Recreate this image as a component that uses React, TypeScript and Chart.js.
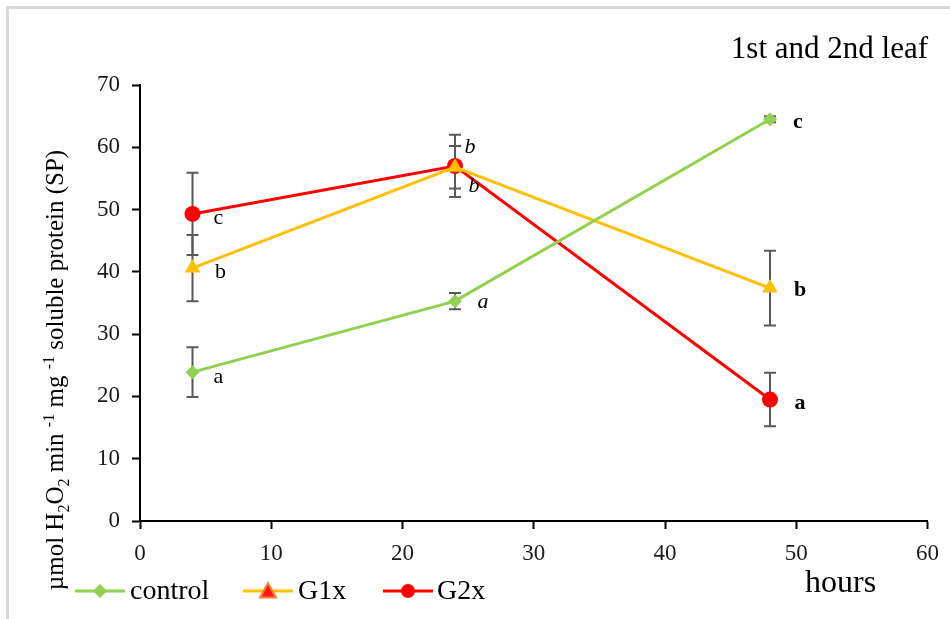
import React, { useEffect, useRef } from "react";
import { Chart, registerables } from "chart.js";

Chart.register(...registerables);

// ---- data ----
const hours = [4, 24, 48];
const controlValues = [23.9, 35.3, 64.5];
const controlErrors = [4.0, 1.3, 0.5];
const g1xValues = [40.6, 56.8, 37.4];
const g1xErrors = [5.3, 3.4, 6.0];
const g2xValues = [49.3, 57.0, 19.5];
const g2xErrors = [6.6, 5.0, 4.3];
const controlLetters = ["a", "a", "c"];
const g1xLetters = ["b", "b", "b"];
const g2xLetters = ["c", "b", "a"];
const seriesNames = ["control", "G1x", "G2x"];
const chartTitle = "1st and 2nd leaf";
const xAxisTitle = "hours";

// ---- styling (not data) ----
const FONT = "'Liberation Serif', 'Times New Roman', serif";
const colors = ["#92d050", "#ffc000", "#ff0000"];
const letterStyle = ["", "italic ", "bold "]; // per time point
const letterOffsets = [
  [[26, 5], [28, 1], [28, 3]],
  [[28, 4], [19, 19], [30, 2]],
  [[26, 4], [15, -19], [30, 4]],
];

const allValues = [controlValues, g1xValues, g2xValues];
const allErrors = [controlErrors, g1xErrors, g2xErrors];
const allLetters = [controlLetters, g1xLetters, g2xLetters];

function drawMarker(ctx: CanvasRenderingContext2D, kind: number, x: number, y: number) {
  ctx.save();
  if (kind === 0) {
    const r = 7;
    ctx.fillStyle = colors[0];
    ctx.beginPath();
    ctx.moveTo(x, y - r);
    ctx.lineTo(x + r, y);
    ctx.lineTo(x, y + r);
    ctx.lineTo(x - r, y);
    ctx.closePath();
    ctx.fill();
  } else if (kind === 1) {
    const r = 8;
    ctx.fillStyle = "#ff1a1a";
    ctx.strokeStyle = "#f4812c";
    ctx.lineWidth = 2;
    ctx.beginPath();
    ctx.moveTo(x, y - r);
    ctx.lineTo(x + r, y + r * 0.8);
    ctx.lineTo(x - r, y + r * 0.8);
    ctx.closePath();
    ctx.fill();
    ctx.stroke();
  } else {
    ctx.fillStyle = colors[2];
    ctx.beginPath();
    ctx.arc(x, y, 7, 0, Math.PI * 2);
    ctx.fill();
  }
  ctx.restore();
}

const decorPlugin = {
  id: "decor",
  beforeDraw(chart: any) {
    const { ctx, width, height } = chart;
    ctx.save();
    ctx.fillStyle = "#ffffff";
    ctx.fillRect(0, 0, width, height);
    // frame
    ctx.fillStyle = "#d9d9d9";
    ctx.fillRect(6, 6, width - 6, 3);
    ctx.fillRect(6, 6, 3, height - 6);
    ctx.restore();
  },
  beforeDatasetsDraw(chart: any) {
    const { ctx, scales } = chart;
    const xs = scales.x;
    const ys = scales.y;
    ctx.save();
    ctx.strokeStyle = "#595959";
    ctx.lineWidth = 2;
    allValues.forEach((vals, i) => {
      vals.forEach((v, j) => {
        const px = xs.getPixelForValue(hours[j]);
        const top = ys.getPixelForValue(v + allErrors[i][j]);
        const bot = ys.getPixelForValue(v - allErrors[i][j]);
        ctx.beginPath();
        ctx.moveTo(px, top);
        ctx.lineTo(px, bot);
        ctx.moveTo(px - 6, top);
        ctx.lineTo(px + 6, top);
        ctx.moveTo(px - 6, bot);
        ctx.lineTo(px + 6, bot);
        ctx.stroke();
      });
    });
    ctx.restore();
  },
  afterDraw(chart: any) {
    const { ctx, scales } = chart;
    const xs = scales.x;
    const ys = scales.y;
    ctx.save();
    // significance letters
    ctx.fillStyle = "#000000";
    ctx.textAlign = "center";
    ctx.textBaseline = "middle";
    allValues.forEach((vals, i) => {
      vals.forEach((v, j) => {
        const px = xs.getPixelForValue(hours[j]);
        const py = ys.getPixelForValue(v);
        ctx.font = `${letterStyle[j]}22px ${FONT}`;
        ctx.fillText(allLetters[i][j], px + letterOffsets[i][j][0], py + letterOffsets[i][j][1]);
      });
    });

    // title
    ctx.font = `31px ${FONT}`;
    ctx.textAlign = "right";
    ctx.textBaseline = "alphabetic";
    ctx.fillText(chartTitle, 928, 58);

    // x-axis title
    ctx.font = `32px ${FONT}`;
    ctx.textAlign = "left";
    ctx.textBaseline = "middle";
    ctx.fillText(xAxisTitle, 805, 584);

    // y-axis title with sub/superscripts
    const segs: { t: string; k: number }[] = [
      { t: "µmol H", k: 0 },
      { t: "2", k: -1 },
      { t: "O", k: 0 },
      { t: "2", k: -1 },
      { t: " min ", k: 0 },
      { t: "-1", k: 1 },
      { t: " mg ", k: 0 },
      { t: "-1", k: 1 },
      { t: " soluble protein (SP)", k: 0 },
    ];
    const big = `25px ${FONT}`;
    const small = `16px ${FONT}`;
    let total = 0;
    segs.forEach((s) => {
      ctx.font = s.k === 0 ? big : small;
      total += ctx.measureText(s.t).width;
    });
    ctx.translate(55, 370);
    ctx.rotate(-Math.PI / 2);
    ctx.textAlign = "left";
    ctx.textBaseline = "alphabetic";
    let cx = -total / 2;
    segs.forEach((s) => {
      ctx.font = s.k === 0 ? big : small;
      const dy = s.k === -1 ? 6 : s.k === 1 ? -9 : 0;
      ctx.fillText(s.t, cx, 8 + dy);
      cx += ctx.measureText(s.t).width;
    });
    ctx.setTransform(1, 0, 0, 1, 0, 0);

    // legend
    const legendY = 591;
    const items = [
      { x: 75, tx: 130 },
      { x: 243, tx: 298 },
      { x: 383, tx: 437 },
    ];
    items.forEach((it, i) => {
      ctx.strokeStyle = colors[i];
      ctx.lineWidth = 3;
      ctx.beginPath();
      ctx.moveTo(it.x, legendY);
      ctx.lineTo(it.x + 50, legendY);
      ctx.stroke();
      drawMarker(ctx, i, it.x + 25, legendY);
      ctx.fillStyle = "#000000";
      ctx.font = `28px ${FONT}`;
      ctx.textAlign = "left";
      ctx.textBaseline = "middle";
      ctx.fillText(seriesNames[i], it.tx, legendY + 1);
    });
    ctx.restore();
  },
};

export default function App() {
  const ref = useRef<HTMLCanvasElement | null>(null);
  useEffect(() => {
    if (!ref.current) return;
    const mk = (vals: number[]) => hours.map((h, i) => ({ x: h, y: vals[i] }));
    const chart = new Chart(ref.current, {
      type: "line",
      data: {
        datasets: [
          {
            label: seriesNames[0],
            data: mk(controlValues),
            borderColor: colors[0],
            backgroundColor: colors[0],
            borderWidth: 3,
            pointStyle: "rectRot",
            pointRadius: 7,
            pointBorderWidth: 0,
          },
          {
            label: seriesNames[1],
            data: mk(g1xValues),
            borderColor: colors[1],
            backgroundColor: colors[1],
            borderWidth: 3,
            pointStyle: "triangle",
            pointRadius: 9,
            pointBorderWidth: 0,
          },
          {
            label: seriesNames[2],
            data: mk(g2xValues),
            borderColor: colors[2],
            backgroundColor: colors[2],
            borderWidth: 3,
            pointStyle: "circle",
            pointRadius: 8,
            pointBorderWidth: 0,
          },
        ],
      },
      options: {
        responsive: false,
        animation: false,
        layout: { padding: { top: 85, right: 22, left: 0, bottom: 0 } },
        plugins: { legend: { display: false }, tooltip: { enabled: false }, title: { display: false } },
        scales: {
          x: {
            type: "linear",
            min: 0,
            max: 60,
            afterFit: (s: any) => {
              s.height = 98;
            },
            ticks: {
              stepSize: 10,
              padding: 11,
              color: "#1a1a1a",
              font: { family: FONT, size: 23 },
              maxRotation: 0,
            },
            grid: { drawOnChartArea: false, drawTicks: true, tickLength: 8, color: "#000000", tickWidth: 2 },
            border: { display: true, color: "#000000", width: 2 },
          },
          y: {
            type: "linear",
            min: 0,
            max: 70,
            afterFit: (s: any) => {
              s.width = 140;
            },
            ticks: {
              stepSize: 10,
              padding: 12,
              color: "#1a1a1a",
              font: { family: FONT, size: 23 },
            },
            grid: { drawOnChartArea: false, drawTicks: true, tickLength: 8, color: "#000000", tickWidth: 2 },
            border: { display: true, color: "#000000", width: 2 },
          },
        },
      },
      plugins: [decorPlugin],
    });
    return () => chart.destroy();
  }, []);
  return (
    <div style={{ position: "fixed", left: 0, top: 0, width: 950, height: 619 }}>
      <canvas ref={ref} width={950} height={619} style={{ width: 950, height: 619, display: "block" }} />
    </div>
  );
}
